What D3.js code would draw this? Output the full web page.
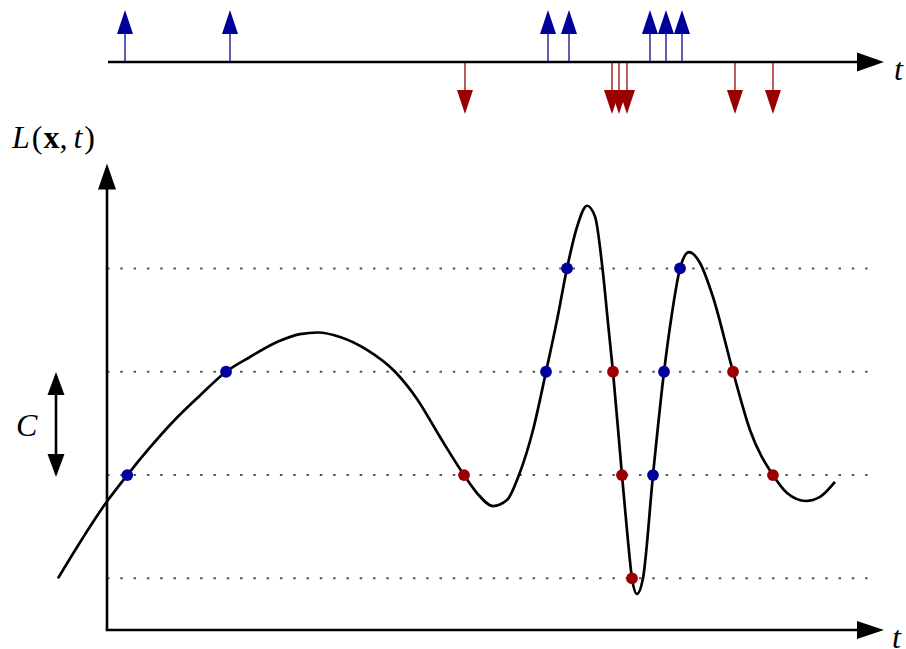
<!DOCTYPE html>
<html><head><meta charset="utf-8">
<script src="https://cdn.jsdelivr.net/npm/d3@7/dist/d3.min.js"></script>
<style>html,body{margin:0;padding:0;background:#fff;}svg{display:block;}</style>
</head><body>
<svg id="c" width="906" height="649"></svg>
<script>
// ---- data ----
const levels = [1, 2, 3, 4];
const curveT = [-6.31, 0.13, 2.61, 5.53, 8.49, 11.97, 15.32, 18.40, 21.88, 24.84, 27.16, 29.99, 33.46, 37.07, 39.90, 42.86, 45.95, 47.62, 49.68, 51.48, 53.02, 54.83, 56.50, 57.92, 59.20, 60.49, 61.78, 62.81, 63.77, 64.48, 65.12, 66.28, 66.92, 67.57, 68.21, 68.98, 70.27, 71.69, 72.72, 73.75, 74.90, 76.32, 77.99, 80.57, 82.75, 85.71, 87.52, 89.96, 91.76, 93.69];
const curveL = [1.0, 1.758, 2.0, 2.267, 2.516, 2.770, 3.0, 3.143, 3.288, 3.365, 3.380, 3.336, 3.211, 3.0, 2.737, 2.368, 2.0, 1.826, 1.700, 1.758, 2.0, 2.436, 3.0, 3.501, 4.0, 4.401, 4.607, 4.502, 4.0, 3.472, 3.0, 2.0, 1.468, 1.0, 0.849, 1.0, 2.0, 3.0, 3.569, 4.0, 4.159, 4.053, 3.724, 3.0, 2.436, 2.0, 1.826, 1.749, 1.788, 1.933];
const upTimes = [2.61, 15.32, 56.50, 59.20, 70.27, 71.69, 73.75];
const upLevels = [2, 3, 3, 4, 2, 3, 4];
const downTimes = [45.95, 65.12, 66.28, 67.57, 80.57, 85.71];
const downLevels = [2, 3, 2, 1, 3, 2];
const spikeUpTimes = [2.32, 15.83, 56.76, 59.46, 69.88, 71.94, 74.0];
const spikeDownTimes = [46.07, 64.99, 65.89, 66.92, 80.82, 85.71];

// ---- scales ----
const x = d3.scaleLinear().domain([0, 100]).range([107, 884]);
const y = d3.scaleLinear().domain([0.5, 5.0]).range([630, 165.15]);
const svg = d3.select("#c");
const BLUE = "#00009a", RED = "#9a0000";
const serif = "'Liberation Serif','DejaVu Serif',serif";

// ---- level lines ----
svg.append("g").selectAll("line").data(levels).join("line")
  .attr("x1", x(0)).attr("x2", x(98.8))
  .attr("y1", d => y(d)).attr("y2", d => y(d))
  .attr("stroke", "#555").attr("stroke-width", 2)
  .attr("stroke-dasharray", "2.5 10.8");

// ---- main axes ----
const ax = svg.append("g");
ax.append("line").attr("x1", x(0)).attr("y1", y(0.5)).attr("x2", x(0)).attr("y2", y(4.95))
  .attr("stroke", "#000").attr("stroke-width", 2.6);
ax.append("line").attr("x1", x(0) - 1.3).attr("y1", y(0.5)).attr("x2", x(99)).attr("y2", y(0.5))
  .attr("stroke", "#000").attr("stroke-width", 2.6);
const yTip = y(5.015);
ax.append("path").attr("d", `M${x(0)},${yTip} L${x(0)-9},${yTip+26} L${x(0)+9},${yTip+26} Z`).attr("fill", "#000");
ax.append("path").attr("d", `M${x(100)},${y(0.5)} L${x(100)-27},${y(0.5)-9} L${x(100)-27},${y(0.5)+9} Z`).attr("fill", "#000");

// ---- curve ----
const pts = curveT.map((t, i) => [t, curveL[i]]);
svg.append("path").datum(pts)
  .attr("d", d3.line().x(d => x(d[0])).y(d => y(d[1])).curve(d3.curveMonotoneX))
  .attr("fill", "none").attr("stroke", "#000").attr("stroke-width", 2.7)
  .attr("stroke-linejoin", "round");

// ---- crossing dots ----
svg.append("g").selectAll("circle").data(upTimes.map((t, i) => [t, upLevels[i]])).join("circle")
  .attr("cx", d => x(d[0])).attr("cy", d => y(d[1])).attr("r", 5.9).attr("fill", BLUE);
svg.append("g").selectAll("circle").data(downTimes.map((t, i) => [t, downLevels[i]])).join("circle")
  .attr("cx", d => x(d[0])).attr("cy", d => y(d[1])).attr("r", 5.9).attr("fill", RED);

// ---- top event axis ----
const ty = 62;
const evt = svg.append("g");
evt.selectAll("line.up").data(spikeUpTimes).join("line").attr("class", "up")
  .attr("x1", d => x(d)).attr("x2", d => x(d)).attr("y1", ty).attr("y2", 32)
  .attr("stroke", "#3535a8").attr("stroke-width", 1.6);
evt.selectAll("path.up").data(spikeUpTimes).join("path").attr("class", "up")
  .attr("d", d => `M${x(d)},10 L${x(d)-8},34 L${x(d)+8},34 Z`).attr("fill", BLUE);
evt.selectAll("line.dn").data(spikeDownTimes).join("line").attr("class", "dn")
  .attr("x1", d => x(d)).attr("x2", d => x(d)).attr("y1", ty).attr("y2", 92)
  .attr("stroke", "#a83535").attr("stroke-width", 1.6);
evt.selectAll("path.dn").data(spikeDownTimes).join("path").attr("class", "dn")
  .attr("d", d => `M${x(d)},114 L${x(d)-8},90 L${x(d)+8},90 Z`).attr("fill", RED);
evt.append("line").attr("x1", 108).attr("x2", x(99)).attr("y1", ty).attr("y2", ty)
  .attr("stroke", "#000").attr("stroke-width", 2.6);
evt.append("path").attr("d", `M${x(100)},${ty} L${x(100)-27},${ty-9.5} L${x(100)-27},${ty+9.5} Z`).attr("fill", "#000");

// ---- C double arrow ----
const cx = 56;
svg.append("line").attr("x1", cx).attr("x2", cx).attr("y1", 385).attr("y2", 464)
  .attr("stroke", "#000").attr("stroke-width", 2.6);
svg.append("path").attr("d", `M${cx},372 L${cx-8.5},395 L${cx+8.5},395 Z`).attr("fill", "#000");
svg.append("path").attr("d", `M${cx},477 L${cx-8.5},454 L${cx+8.5},454 Z`).attr("fill", "#000");

// ---- labels ----
const lab = svg.append("text").attr("x", 12).attr("y", 148).attr("font-family", serif).attr("font-size", 32).attr("fill", "#000");
lab.append("tspan").attr("font-style", "italic").text("L");
lab.append("tspan").attr("dx", 2).text("(");
lab.append("tspan").attr("dx", 1).attr("font-weight", "bold").text("x");
lab.append("tspan").text(",");
lab.append("tspan").attr("dx", 6).attr("font-style", "italic").text("t");
lab.append("tspan").attr("dx", 2).text(")");
svg.append("text").attr("x", 16).attr("y", 436).attr("font-family", serif).attr("font-style", "italic").attr("font-size", 32).text("C");
svg.append("text").attr("x", 894).attr("y", 80).attr("font-family", serif).attr("font-style", "italic").attr("font-size", 32).text("t");
svg.append("text").attr("x", 892).attr("y", 648).attr("font-family", serif).attr("font-style", "italic").attr("font-size", 32).text("t");
</script>
</body></html>
